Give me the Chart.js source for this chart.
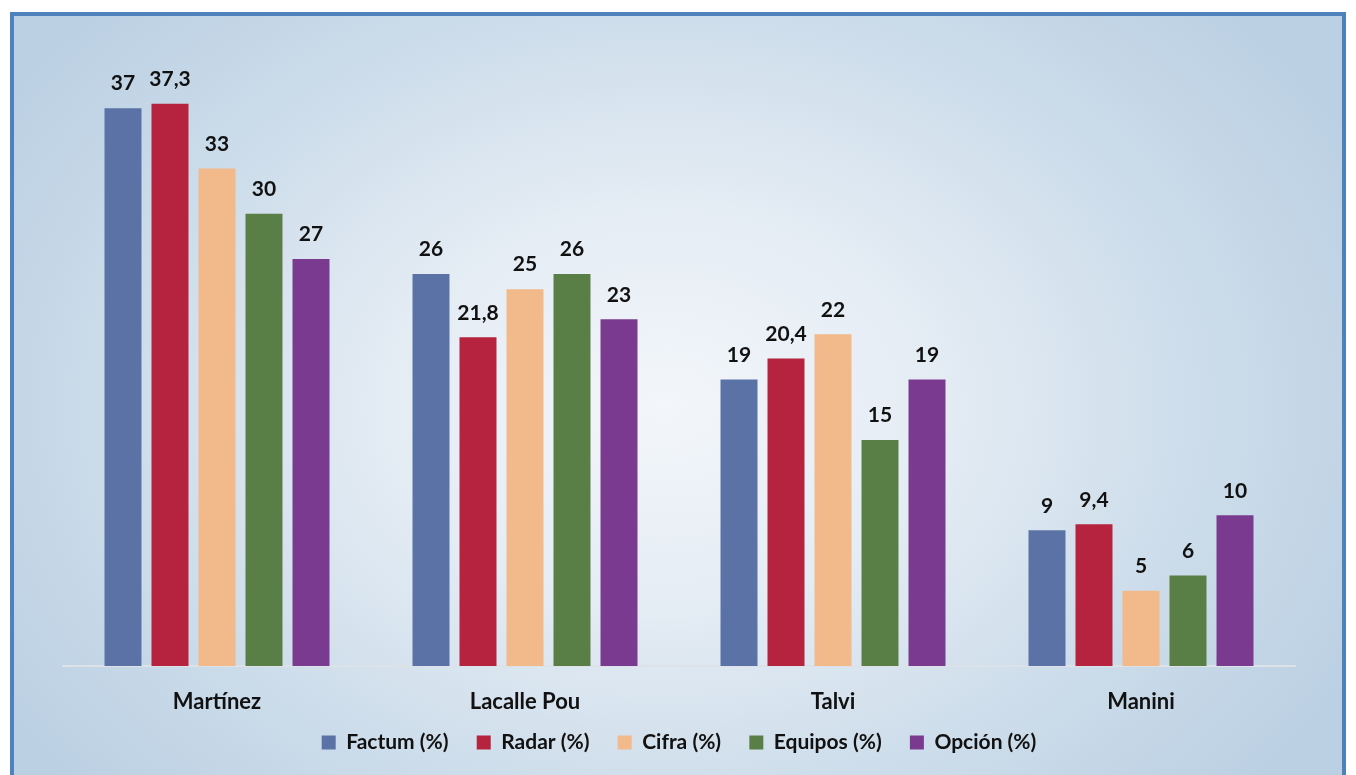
<!DOCTYPE html>
<html>
<head>
<meta charset="utf-8">
<script src="https://cdn.jsdelivr.net/npm/chart.js@4/dist/chart.umd.min.js"></script>
<style>
  html, body { margin: 0; padding: 0; background: #fff; overflow: hidden; }
  #frame {
    position: absolute; left: 10px; top: 12px; width: 1328px; height: 800px;
    border: 4px solid #4f81bd;
    background: radial-gradient(ellipse 780px 580px at 650px 390px, #f3f6fa 0%, #e4ecf4 35%, #ccdcea 70%, #bbd0e3 100%);
  }
  #wrap { position: absolute; left: 0; top: 0; width: 1356px; height: 775px; }
</style>
</head>
<body>
<div id="frame"></div>
<div id="wrap"><canvas id="pollChart" width="1356" height="775"></canvas></div>
<script>
// candidates and poll results (%)
const candidates = ['Martínez', 'Lacalle Pou', 'Talvi', 'Manini'];
const factum  = [37, 26, 19, 9];
const radar   = [37.3, 21.8, 20.4, 9.4];
const cifra   = [33, 25, 22, 5];
const equipos = [30, 26, 15, 6];
const opcion  = [27, 23, 19, 10];

const FONT = 'Lato, "Open Sans", sans-serif';

// value labels on top of each bar, comma decimals
const valueLabels = {
  id: 'valueLabels',
  afterDatasetsDraw(chart) {
    const ctx = chart.ctx;
    ctx.save();
    ctx.font = 'bold 21px ' + FONT;
    ctx.fillStyle = '#111';
    ctx.textAlign = 'center';
    ctx.textBaseline = 'bottom';
    chart.data.datasets.forEach((ds, i) => {
      chart.getDatasetMeta(i).data.forEach((bar, j) => {
        const txt = String(ds.data[j]).replace('.', ',');
        ctx.fillText(txt, bar.x, bar.y - 14);
      });
    });
    ctx.restore();
  }
};

const ctx = document.getElementById('pollChart').getContext('2d');
new Chart(ctx, {
  type: 'bar',
  data: {
    labels: candidates,
    datasets: [
      { label: 'Factum (%)',  data: factum,  backgroundColor: '#5a72a6' },
      { label: 'Radar (%)',   data: radar,   backgroundColor: '#b5233f' },
      { label: 'Cifra (%)',   data: cifra,   backgroundColor: '#f2b98a' },
      { label: 'Equipos (%)', data: equipos, backgroundColor: '#5a7f46' },
      { label: 'Opción (%)',  data: opcion,  backgroundColor: '#7a3a8f' }
    ]
  },
  options: {
    responsive: false,
    animation: false,
    layout: { padding: { left: 63, right: 61, top: 63, bottom: 12 } },
    datasets: { bar: { categoryPercentage: 0.763, barPercentage: 0.787 } },
    scales: {
      x: {
        grid: { display: false, drawTicks: false },
        border: { display: true, color: '#dde2e8', width: 2 },
        ticks: { color: '#111', font: { family: FONT, size: 22, weight: 'bold' }, padding: 23 },
        afterFit(scale) { scale.height = 48; }
      },
      y: { display: false, min: 0, max: 40 }
    },
    plugins: {
      legend: {
        position: 'bottom',
        labels: {
          boxWidth: 14, boxHeight: 14, padding: 18, color: '#111',
          font: { family: FONT, size: 21, weight: 'bold' },
          generateLabels(chart) {
            const items = Chart.defaults.plugins.legend.labels.generateLabels(chart);
            items.forEach((it, i) => { if (i < items.length - 1) it.text += '  '; });
            return items;
          }
        }
      },
      tooltip: { enabled: false }
    }
  },
  plugins: [valueLabels]
});
</script>
</body>
</html>
